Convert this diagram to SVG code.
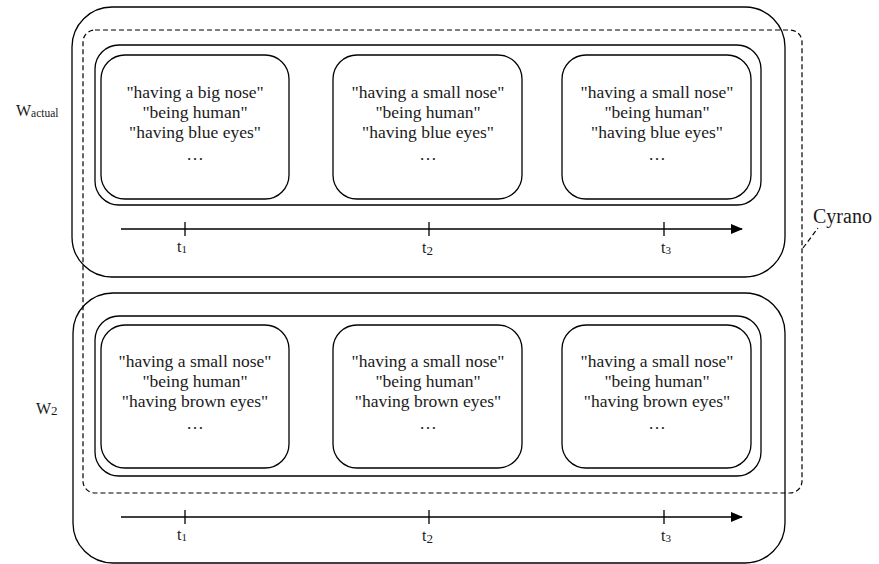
<svg xmlns="http://www.w3.org/2000/svg" width="879" height="564" viewBox="0 0 879 564">
<style>
.ln{fill:none;stroke:#000;stroke-width:1.3}
.dash{fill:none;stroke:#000;stroke-width:1.2;stroke-dasharray:5,3}
.t{font-family:"Liberation Serif","Times New Roman",serif;font-size:17.5px;fill:#1a1a1a;text-anchor:middle}
.lb{font-family:"Liberation Serif","Times New Roman",serif;fill:#1a1a1a}
</style>
<defs>
<marker id="arr" markerWidth="12" markerHeight="10" refX="11" refY="5" orient="auto" markerUnits="userSpaceOnUse">
<path d="M0,0 L12,5 L0,10 Z" fill="#000"/>
</marker>
</defs>
<rect width="879" height="564" fill="#fff"/>
<g id="w-actual">
<rect class="ln" x="72" y="7" width="713" height="270" rx="40"/>
<rect class="ln" x="95" y="45" width="666" height="160" rx="24"/>
<text class="lb" x="16" y="116" font-size="16">W<tspan font-size="11.5" dy="1">actual</tspan></text>
</g>
<g id="w2">
<rect class="ln" x="73" y="293" width="712" height="270" rx="40"/>
<rect class="ln" x="95" y="316" width="666" height="160" rx="24"/>
<text class="lb" x="36" y="414" font-size="16">W<tspan font-size="13" dy="1">2</tspan></text>
</g>
<g id="s1a">
<rect class="ln" x="101" y="55" width="188" height="144" rx="24"/>
<text class="t" x="195" y="98">"having a big nose"</text>
<text class="t" x="195" y="118">"being human"</text>
<text class="t" x="195" y="138">"having blue eyes"</text>
<text class="t" x="195" y="160">…</text>
</g>
<g id="s2a">
<rect class="ln" x="333" y="55" width="189" height="144" rx="24"/>
<text class="t" x="428" y="98">"having a small nose"</text>
<text class="t" x="428" y="118">"being human"</text>
<text class="t" x="428" y="138">"having blue eyes"</text>
<text class="t" x="428" y="160">…</text>
</g>
<g id="s3a">
<rect class="ln" x="562" y="55" width="189" height="144" rx="24"/>
<text class="t" x="657" y="98">"having a small nose"</text>
<text class="t" x="657" y="118">"being human"</text>
<text class="t" x="657" y="138">"having blue eyes"</text>
<text class="t" x="657" y="160">…</text>
</g>
<g id="s1b">
<rect class="ln" x="101" y="325" width="188" height="143" rx="24"/>
<text class="t" x="195" y="367">"having a small nose"</text>
<text class="t" x="195" y="387">"being human"</text>
<text class="t" x="195" y="407">"having brown eyes"</text>
<text class="t" x="195" y="429">…</text>
</g>
<g id="s2b">
<rect class="ln" x="333" y="325" width="189" height="143" rx="24"/>
<text class="t" x="428" y="367">"having a small nose"</text>
<text class="t" x="428" y="387">"being human"</text>
<text class="t" x="428" y="407">"having brown eyes"</text>
<text class="t" x="428" y="429">…</text>
</g>
<g id="s3b">
<rect class="ln" x="562" y="325" width="189" height="143" rx="24"/>
<text class="t" x="657" y="367">"having a small nose"</text>
<text class="t" x="657" y="387">"being human"</text>
<text class="t" x="657" y="407">"having brown eyes"</text>
<text class="t" x="657" y="429">…</text>
</g>
<g id="cyrano">
<rect class="dash" x="83" y="30" width="719" height="463" rx="12"/>
<text class="lb" x="813" y="223" font-size="20">Cyrano</text>
</g>
<g id="timelines">
<line class="ln" x1="121" y1="229" x2="742" y2="229" marker-end="url(#arr)"/>
<line class="ln" x1="185" y1="222" x2="185" y2="236"/>
<line class="ln" x1="429" y1="222" x2="429" y2="236"/>
<line class="ln" x1="664" y1="222" x2="664" y2="236"/>
<text class="lb" x="177" y="252" font-size="16">t<tspan font-size="11" dy="1">1</tspan></text>
<text class="lb" x="422" y="253" font-size="16">t<tspan font-size="13" dy="2">2</tspan></text>
<text class="lb" x="661" y="253" font-size="16">t<tspan font-size="11" dy="1">3</tspan></text>
<line class="ln" x1="121" y1="517" x2="742" y2="517" marker-end="url(#arr)"/>
<line class="ln" x1="185" y1="510" x2="185" y2="524"/>
<line class="ln" x1="429" y1="510" x2="429" y2="524"/>
<line class="ln" x1="664" y1="510" x2="664" y2="524"/>
<text class="lb" x="177" y="540" font-size="16">t<tspan font-size="11" dy="1">1</tspan></text>
<text class="lb" x="422" y="541" font-size="16">t<tspan font-size="13" dy="2">2</tspan></text>
<text class="lb" x="661" y="541" font-size="16">t<tspan font-size="11" dy="1">3</tspan></text>
</g>
<g id="connectors">
<line class="dash" x1="803" y1="248" x2="818" y2="228" stroke-dasharray="4,3"/>
</g>
</svg>
